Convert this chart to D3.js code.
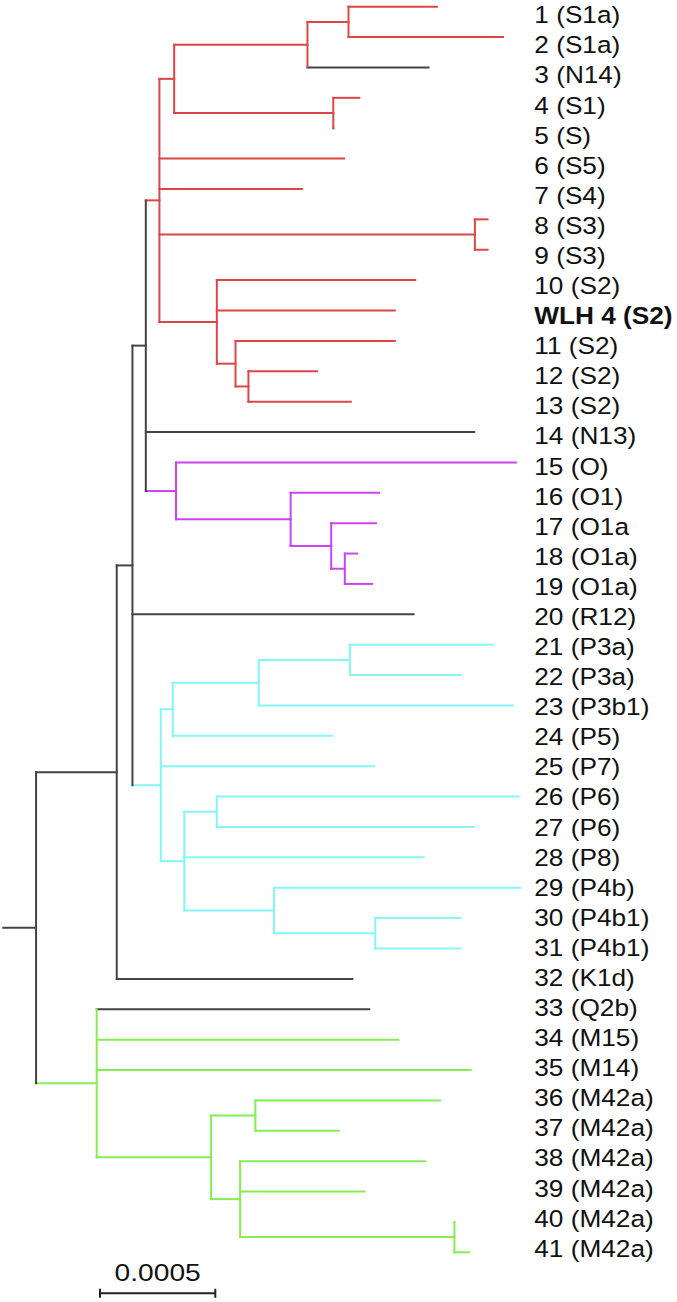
<!DOCTYPE html>
<html>
<head>
<meta charset="utf-8">
<script src="https://cdn.jsdelivr.net/npm/d3@7"></script>
<style>
  html, body { margin: 0; padding: 0; background: #fff; }
  svg { display: block; }
</style>
</head>
<body>
<svg id="chart" width="677" height="1302"></svg>
<script>
// ---- DATA ----
// Tree topology: [node id, parent id, branch length (substitutions/site)]
const treeNodes = [
  ["root", "", 0],
  ["n0", "root", 1.42e-4],
  ["L", "n0", 3.50e-4],
  ["K", "L", 0.68e-4],
  ["J", "K", 0.58e-4],
  ["E", "J", 0.59e-4],
  ["C", "E", 0.64e-4],
  ["B", "C", 5.78e-4],
  ["A", "B", 1.78e-4],
  ["1 (S1a)", "A", 3.83e-4],
  ["2 (S1a)", "A", 6.70e-4],
  ["3 (N14)", "B", 5.25e-4],
  ["D", "C", 6.90e-4],
  ["4 (S1)", "D", 1.13e-4],
  ["5 (S)", "D", 0],
  ["6 (S5)", "E", 8.01e-4],
  ["7 (S4)", "E", 6.18e-4],
  ["G", "E", 13.68e-4],
  ["8 (S3)", "G", 0.55e-4],
  ["9 (S3)", "G", 0.55e-4],
  ["F", "E", 2.49e-4],
  ["10 (S2)", "F", 8.60e-4],
  ["WLH 4 (S2)", "F", 7.72e-4],
  ["H", "F", 0.81e-4],
  ["11 (S2)", "H", 6.91e-4],
  ["I", "H", 0.56e-4],
  ["12 (S2)", "I", 2.97e-4],
  ["13 (S2)", "I", 4.44e-4],
  ["14 (N13)", "J", 14.24e-4],
  ["O", "J", 1.31e-4],
  ["15 (O)", "O", 14.74e-4],
  ["P", "O", 4.97e-4],
  ["16 (O1)", "P", 3.84e-4],
  ["Q", "P", 1.76e-4],
  ["17 (O1a", "Q", 1.94e-4],
  ["R", "Q", 0.59e-4],
  ["18 (O1a)", "R", 0.53e-4],
  ["19 (O1a)", "R", 1.18e-4],
  ["20 (R12)", "K", 12.19e-4],
  ["S", "K", 1.23e-4],
  ["T", "S", 0.52e-4],
  ["V", "T", 3.73e-4],
  ["W", "V", 3.95e-4],
  ["21 (P3a)", "W", 6.18e-4],
  ["22 (P3a)", "W", 4.80e-4],
  ["23 (P3b1)", "V", 11.01e-4],
  ["24 (P5)", "T", 6.91e-4],
  ["25 (P7)", "S", 9.26e-4],
  ["U", "S", 1.02e-4],
  ["X", "U", 1.41e-4],
  ["26 (P6)", "X", 13.08e-4],
  ["27 (P6)", "X", 11.14e-4],
  ["28 (P8)", "U", 10.38e-4],
  ["Y", "U", 3.89e-4],
  ["29 (P4b)", "Y", 10.67e-4],
  ["Z", "Y", 4.39e-4],
  ["30 (P4b1)", "Z", 3.69e-4],
  ["31 (P4b1)", "Z", 3.69e-4],
  ["32 (K1d)", "L", 10.22e-4],
  ["M", "n0", 2.63e-4],
  ["33 (Q2b)", "M", 11.82e-4],
  ["34 (M15)", "M", 13.08e-4],
  ["35 (M14)", "M", 16.22e-4],
  ["N", "M", 4.96e-4],
  ["AA", "N", 1.92e-4],
  ["36 (M42a)", "AA", 8.01e-4],
  ["37 (M42a)", "AA", 3.62e-4],
  ["AB", "N", 1.26e-4],
  ["38 (M42a)", "AB", 8.02e-4],
  ["39 (M42a)", "AB", 5.39e-4],
  ["AC", "AB", 9.29e-4],
  ["40 (M42a)", "AC", 0],
  ["41 (M42a)", "AC", 0.64e-4]
];
// Coloured clades (haplogroup groups) and the node that roots each
const cladeNames = ["S", "O", "P", "M"];
const cladeRoots = ["E", "O", "S", "M"];
// leaves inside a coloured clade that are drawn uncoloured
const uncolouredLeaves = ["3 (N14)", "33 (Q2b)"];
// highlighted sample
const boldLabels = ["WLH 4 (S2)"];
// scale bar
const scaleBarValue = 0.0005;
const scaleBarLabel = "0.0005";

// ---- STYLE ----
const cladeColors = { S: "#dc4646", O: "#cc44f2", P: "#84f6f6", M: "#84ee52" };
const baseColor = "#444";

// ---- BUILD ----
const svg = d3.select("#chart");
const root = d3.stratify()
  .id(d => d[0])
  .parentId(d => d[1] === "" ? null : d[1])(treeNodes);

root.eachBefore(n => {
  n.dist = n.parent ? n.parent.dist + n.data[2] : 0;
  let clade = n.parent ? n.parent.clade : null;
  const ci = cladeRoots.indexOf(n.id);
  if (ci >= 0) clade = cladeNames[ci];
  n.clade = clade;
  n.color = (clade && !uncolouredLeaves.includes(n.id)) ? cladeColors[clade] : baseColor;
});

const leaves = root.leaves();
const nLeaves = leaves.length;
const y = d3.scaleLinear().domain([0, nLeaves - 1]).range([6.7, 1252.3]);
const yLabel = d3.scaleLinear().domain([0, nLeaves - 1]).range([23.3, 1256.7]);
const x = d3.scaleLinear().domain([0, 0.001]).range([3.3, 3.3 + 230.6]);

leaves.forEach((l, i) => { l.idx = i; l.y = y(i); });
root.eachAfter(n => {
  if (n.children) {
    n.y = (n.children[0].y + n.children[n.children.length - 1].y) / 2;
  }
});

const g = svg.append("g");
const all = root.descendants();

// horizontal branches
g.selectAll("line.h")
  .data(all.filter(n => n.parent))
  .join("line")
  .attr("class", "h")
  .attr("x1", n => x(n.parent.dist))
  .attr("x2", n => x(n.dist))
  .attr("y1", n => n.y)
  .attr("y2", n => n.y)
  .attr("stroke", n => n.color)
  .attr("stroke-width", 2)
  .attr("stroke-linecap", "square");

// root stem (drawn from origin of x to the root)
// vertical connectors
g.selectAll("line.v")
  .data(all.filter(n => n.children && n.children.length > 1))
  .join("line")
  .attr("class", "v")
  .attr("x1", n => x(n.dist))
  .attr("x2", n => x(n.dist))
  .attr("y1", n => n.children[0].y)
  .attr("y2", n => n.children[n.children.length - 1].y)
  .attr("stroke", n => n.color)
  .attr("stroke-width", 2)
  .attr("stroke-linecap", "square");

// leaf labels
const labelG = svg.append("g").attr("transform", "translate(534.3,0)");
labelG.selectAll("text")
  .data(leaves)
  .join("text")
  .attr("transform", l => `translate(0,${yLabel(l.idx)}) scale(1.07,1)`)
  .attr("font-family", "'Liberation Sans', Arial, sans-serif")
  .attr("font-size", 24.5)
  .attr("font-weight", l => boldLabels.includes(l.id) ? "bold" : "normal")
  .attr("fill", "#111")
  .text(l => l.id);

// scale bar
const barX0 = 100, barY = 1293.3;
const barLen = x(scaleBarValue) - x(0);
const bar = svg.append("g").attr("transform", `translate(${barX0},${barY})`);
bar.append("line").attr("x1", 0).attr("x2", barLen).attr("y1", 0).attr("y2", 0)
  .attr("stroke", "#222").attr("stroke-width", 2);
bar.selectAll("line.tick").data([0, barLen]).join("line")
  .attr("class", "tick")
  .attr("x1", d => d).attr("x2", d => d).attr("y1", -4.5).attr("y2", 4.5)
  .attr("stroke", "#222").attr("stroke-width", 2);
bar.append("text")
  .attr("transform", `translate(${barLen / 2},-12.6) scale(1.15,1)`)
  .attr("text-anchor", "middle")
  .attr("font-family", "'Liberation Sans', Arial, sans-serif")
  .attr("font-size", 24.5)
  .attr("fill", "#111")
  .text(scaleBarLabel);
</script>
</body>
</html>
